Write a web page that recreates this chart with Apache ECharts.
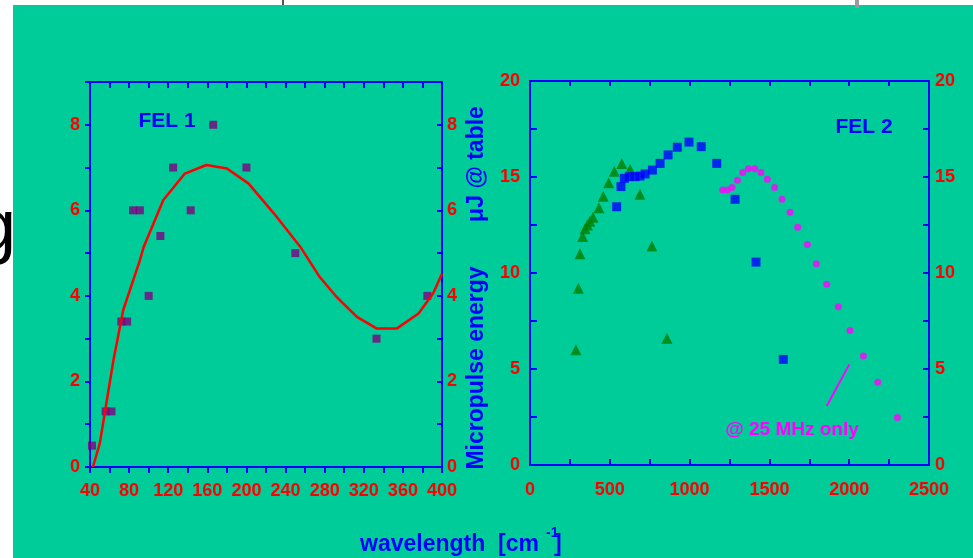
<!DOCTYPE html>
<html>
<head>
<meta charset="utf-8">
<title>FEL micropulse energy</title>
<script src="https://cdn.jsdelivr.net/npm/echarts@6/dist/echarts.min.js"></script>
<style>
html, body { margin: 0; padding: 0; background: #fff; }
#main { width: 973px; height: 558px; }
</style>
</head>
<body>
<div id="main"></div>
<script>
// FEL 1 measured points (purple squares)
var fel1X = [42, 56, 62, 72, 78, 84, 91, 100, 112, 125, 143, 166, 200, 250, 333, 385];
var fel1Y = [0.5, 1.3, 1.3, 3.4, 3.4, 6.0, 6.0, 4.0, 5.4, 7.0, 6.0, 8.0, 7.0, 5.0, 3.0, 4.0];

// FEL 1 fit curve (red)
var fitX = [43, 50, 64, 74, 91, 95, 115, 137, 159, 180, 202, 228, 255, 275, 292, 313, 333, 354, 376, 391, 400];
var fitY = [0, 0.55, 2.5, 3.67, 4.83, 5.15, 6.24, 6.86, 7.06, 6.98, 6.63, 5.93, 5.15, 4.44, 3.98, 3.51, 3.24, 3.24, 3.59, 4.06, 4.52];

// FEL 2 green triangles
var triX = [288, 303, 313, 330, 345, 360, 375, 395, 432, 459, 493, 528, 575, 627, 689, 764, 858];
var triY = [6.0, 9.2, 11.0, 11.9, 12.3, 12.5, 12.7, 12.9, 13.4, 14.0, 14.7, 15.3, 15.7, 15.4, 14.1, 11.4, 6.6];

// FEL 2 blue squares
var sqX = [543, 570, 591, 622, 658, 689, 721, 767, 815, 865, 923, 996, 1073, 1170, 1285, 1416, 1587];
var sqY = [13.45, 14.5, 14.93, 15.02, 15.02, 15.05, 15.16, 15.36, 15.71, 16.15, 16.55, 16.82, 16.58, 15.71, 13.84, 10.57, 5.5];

// FEL 2 magenta dots (@ 25 MHz only)
var dotX = [1207, 1236, 1266, 1299, 1333, 1368, 1408, 1447, 1487, 1533, 1579, 1629, 1677, 1738, 1794, 1859, 1932, 2005, 2089, 2179, 2302];
var dotY = [14.32, 14.32, 14.45, 14.83, 15.24, 15.43, 15.43, 15.24, 14.88, 14.45, 13.84, 13.16, 12.38, 11.49, 10.48, 9.41, 8.24, 7.0, 5.68, 4.31, 2.48];

// pointer from the "@ 25 MHz only" note
var noteX = [1859, 2001];
var noteY = [3.07, 5.24];

// axis ranges / ticks
var fel1XRange = [40, 400], fel1XStep = 20, fel1XLabelEvery = 40;
var fel1YRange = [0, 9], fel1YStep = 1, fel1YLabelEvery = 2;
var fel2XRange = [0, 2500], fel2XStep = 250, fel2XLabelEvery = 500;
var fel2YRange = [0, 20], fel2YStep = 2.5, fel2YLabelEvery = 5;

var FONT = 'Liberation Sans';
var GREEN = '#00CC99', BLUE = '#0000FF', RED = '#FF0000';

function zip(xs, ys) {
    var out = [];
    for (var i = 0; i < xs.length; i++) {
        out.push([xs[i], ys[i]]);
    }
    return out;
}

function axis(gridIndex, pos, range, step, every, inside, showLabel, margin, tickLen) {
    return {
        type: 'value',
        gridIndex: gridIndex,
        position: pos,
        min: range[0],
        max: range[1],
        interval: step,
        axisLine: { show: true, onZero: false, lineStyle: { color: BLUE, width: 2 } },
        axisTick: { show: true, inside: inside, length: tickLen, lineStyle: { color: BLUE, width: 2 } },
        splitLine: { show: false },
        axisLabel: {
            show: showLabel,
            margin: margin,
            color: RED,
            fontFamily: FONT,
            fontWeight: 'bold',
            fontSize: 18,
            showMinLabel: true,
            showMaxLabel: true,
            formatter: function(v) {
                var k = v / every;
                return Math.abs(k - Math.round(k)) < 1e-6 ? String(v) : '';
            }
        }
    };
}

var myChart = echarts.init(document.getElementById('main'), null, { renderer: 'canvas' });

var option = {
    animation: false,
    backgroundColor: '#fff',
    grid: [
        { left: 90, top: 82, width: 352, height: 385, outerBoundsMode: 'none' },
        { left: 530, top: 81, width: 399, height: 384, outerBoundsMode: 'none' }
    ],
    xAxis: [
        axis(0, 'bottom', fel1XRange, fel1XStep, fel1XLabelEvery, false, true, 15, 6),
        axis(0, 'top', fel1XRange, fel1XStep, fel1XLabelEvery, true, false, 8, 6),
        axis(1, 'bottom', fel2XRange, fel2XStep, fel2XLabelEvery, true, true, 16, 6),
        axis(1, 'top', fel2XRange, fel2XStep, fel2XLabelEvery, true, false, 8, 5)
    ],
    yAxis: [
        axis(0, 'left', fel1YRange, fel1YStep, fel1YLabelEvery, false, true, 10, 5),
        axis(0, 'right', fel1YRange, fel1YStep, fel1YLabelEvery, true, true, 5, 5),
        axis(1, 'left', fel2YRange, fel2YStep, fel2YLabelEvery, true, true, 10, 7),
        axis(1, 'right', fel2YRange, fel2YStep, fel2YLabelEvery, true, true, 6, 6)
    ],
    series: [{
        name: 'FEL 1',
        type: 'scatter',
        xAxisIndex: 0,
        yAxisIndex: 0,
        symbol: 'rect',
        symbolSize: 8,
        itemStyle: { color: '#800080' },
        data: zip(fel1X, fel1Y)
    }, {
        name: 'FEL 1 fit',
        type: 'line',
        xAxisIndex: 0,
        yAxisIndex: 0,
        showSymbol: false,
        lineStyle: { color: RED, width: 2.5 },
        data: zip(fitX, fitY)
    }, {
        name: 'FEL 2 triangles',
        type: 'scatter',
        xAxisIndex: 2,
        yAxisIndex: 2,
        symbol: 'triangle',
        symbolSize: 11,
        itemStyle: { color: '#008000' },
        data: zip(triX, triY)
    }, {
        name: 'FEL 2 squares',
        type: 'scatter',
        xAxisIndex: 2,
        yAxisIndex: 2,
        symbol: 'rect',
        symbolSize: 9,
        itemStyle: { color: BLUE },
        data: zip(sqX, sqY)
    }, {
        name: '@ 25 MHz only',
        type: 'scatter',
        xAxisIndex: 2,
        yAxisIndex: 2,
        symbol: 'circle',
        symbolSize: 7,
        itemStyle: { color: '#FF00FF' },
        data: zip(dotX, dotY)
    }, {
        name: 'note',
        type: 'line',
        xAxisIndex: 2,
        yAxisIndex: 2,
        showSymbol: false,
        lineStyle: { color: '#FF00FF', width: 2 },
        data: zip(noteX, noteY)
    }],
    graphic: [
        // stray "g" of the slide behind
        { type: 'text', z: -20, x: 16, y: 266, style: { text: 'g', fill: '#000', font: '72px "Liberation Sans"', textAlign: 'right', textVerticalAlign: 'bottom' } },
        { type: 'rect', z: -10, shape: { x: 13, y: 5, width: 960, height: 553 }, style: { fill: GREEN } },
        { type: 'rect', z: -10, shape: { x: 282, y: 0, width: 2, height: 5 }, style: { fill: '#555' } },
        { type: 'rect', z: -10, shape: { x: 855, y: 0, width: 4, height: 8 }, style: { fill: '#999' } },
        // labels
        { type: 'text', x: 167, y: 121, style: { text: 'FEL 1', fill: BLUE, font: 'bold 21px "Liberation Sans"', textAlign: 'center', textVerticalAlign: 'middle' } },
        { type: 'text', x: 864, y: 127, style: { text: 'FEL 2', fill: BLUE, font: 'bold 21px "Liberation Sans"', textAlign: 'center', textVerticalAlign: 'middle' } },
        { type: 'text', x: 792, y: 430, style: { text: '@ 25 MHz only', fill: '#FF00FF', font: 'bold 19px "Liberation Sans"', textAlign: 'center', textVerticalAlign: 'middle' } },
        // y title (rotated)
        { type: 'text', x: 477, y: 368, rotation: Math.PI / 2, style: { text: 'Micropulse energy', fill: BLUE, font: 'bold 23px "Liberation Sans"', textAlign: 'center', textVerticalAlign: 'middle' } },
        { type: 'text', x: 477, y: 164, rotation: Math.PI / 2, style: { text: '\u03bcJ @ table', fill: BLUE, font: 'bold 23px "Liberation Sans"', textAlign: 'center', textVerticalAlign: 'middle' } },
        // x title
        { type: 'text', x: 360, y: 545, style: { text: 'wavelength  [cm', fill: BLUE, font: 'bold 23px "Liberation Sans"', textAlign: 'left', textVerticalAlign: 'middle' } },
        { type: 'text', x: 546, y: 533, style: { text: '-1', fill: BLUE, font: 'bold 14px "Liberation Sans"', textAlign: 'left', textVerticalAlign: 'middle' } },
        { type: 'text', x: 554, y: 545, style: { text: ']', fill: BLUE, font: 'bold 23px "Liberation Sans"', textAlign: 'left', textVerticalAlign: 'middle' } }
    ]
};

myChart.setOption(option);
</script>
</body>
</html>
